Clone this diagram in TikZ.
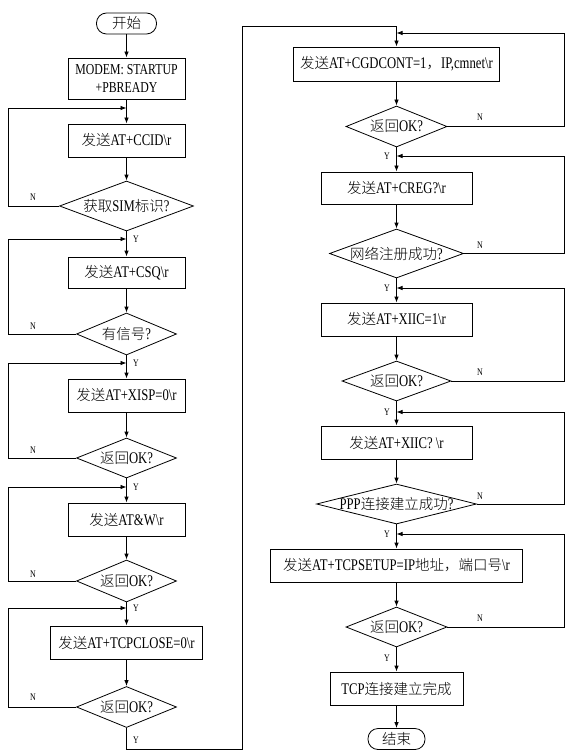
\documentclass[tikz,border=0pt]{standalone}
\usepackage{fontspec}
\setmainfont{Liberation Serif}[Scale=1.12, FakeStretch=0.78]
\newfontfamily\cjkfont{Noto Sans CJK SC Light}
\usetikzlibrary{shapes.geometric,arrows.meta}
\newcommand\zh[1]{{\cjkfont #1}}
\newcommand\bsr{\textbackslash r}

\begin{document}
\begin{tikzpicture}[x=1pt,y=-1pt,
  every path/.style={line width=0.8pt},
  arr/.style={-{Latex[length=6pt,width=4.5pt]}},
  txt/.style={font=\fontsize{14.5}{17}\selectfont},
  process/.style={draw, rectangle, inner sep=0pt, txt, minimum height=33pt},
  terminal/.style={draw, rectangle, rounded corners=10pt, inner sep=0pt, txt,
                   minimum width=58pt, minimum height=21pt},
  decision/.style={draw, diamond, inner sep=0pt, label={[txt]center:#1}},
  yn/.style={font=\fontsize{9}{10}\selectfont, inner sep=0pt}]
\useasboundingbox (0,0) rectangle (565,751);

% rails used by the feedback loops
\coordinate (lrail) at (8,0);
\coordinate (rrail) at (564,0);

% ---------------- left column ----------------
\node[terminal, minimum width=60pt] (start) at (126.5,23.5) {\zh{开始}};
\node[process, minimum width=117pt, minimum height=41pt, align=center,
      font=\fontsize{13.5}{18}\selectfont] (modem) at (126.5,78.5) {MODEM: STARTUP\\+PBREADY};
\node[process, minimum width=117pt] (ccid) at (126.5,140.5) {\zh{发送}AT+CCID\bsr};
\node[decision={\zh{获取}SIM\zh{标识}?}, minimum width=134pt, minimum height=50pt] (d1) at (126.5,206) {};
\node[process, minimum width=117pt, minimum height=31pt] (csq) at (126.5,272.5) {\zh{发送}AT+CSQ\bsr};
\node[decision={\zh{有信号}?}, minimum width=100pt, minimum height=42pt] (d2) at (126.5,334) {};
\node[process, minimum width=117pt] (xisp) at (126.5,395.5) {\zh{发送}AT+XISP=0\bsr};
\node[decision={\zh{返回}OK?}, minimum width=100pt, minimum height=40pt] (d3) at (126.5,458) {};
\node[process, minimum width=117pt] (atw) at (126.5,519.5) {\zh{发送}AT\&W\bsr};
\node[decision={\zh{返回}OK?}, minimum width=100pt, minimum height=42pt] (d4) at (126.5,581) {};
\node[process, minimum width=152pt] (close) at (126.5,642.5) {\zh{发送}AT+TCPCLOSE=0\bsr};
\node[decision={\zh{返回}OK?}, minimum width=100pt, minimum height=41pt] (d5) at (126.5,707) {};

% loop entry points on the left column
\coordinate (j1) at (126.5,108);
\coordinate (j2) at (126.5,239);
\coordinate (j3) at (126.5,363);
\coordinate (j4) at (126.5,487);
\coordinate (j5) at (126.5,608);

% ---------------- right column ----------------
\node[process, minimum width=206pt, minimum height=34pt] (cgd) at (396.5,64) {\zh{发送}AT+CGDCONT=1\zh{，}IP,cmnet\bsr};
\node[decision={\zh{返回}OK?}, minimum width=101pt, minimum height=41pt] (r1) at (396.5,126.5) {};
\node[process, minimum width=151pt, minimum height=32pt] (creg) at (396.5,188) {\zh{发送}AT+CREG?\bsr};
\node[decision={\zh{网络注册成功}?}, minimum width=134pt, minimum height=49pt] (r2) at (396.5,253.5) {};
\node[process, minimum width=151pt] (xiic1) at (396.5,319.5) {\zh{发送}AT+XIIC=1\bsr};
\node[decision={\zh{返回}OK?}, minimum width=109pt, minimum height=40pt] (r3) at (396.5,381) {};
\node[process, minimum width=151pt] (xiicq) at (396.5,442.5) {\zh{发送}AT+XIIC? \bsr};
\node[decision={PPP\zh{连接建立成功}?}, minimum width=160pt, minimum height=40pt] (r4) at (396.5,504) {};
\node[process, minimum width=252pt] (setup) at (396.5,565.5) {\zh{发送}AT+TCPSETUP=IP\zh{地址，端口号}\bsr};
\node[decision={\zh{返回}OK?}, minimum width=101pt, minimum height=40pt] (r5) at (396.5,627) {};
\node[process, minimum width=133pt] (done) at (396.5,688.5) {TCP\zh{连接建立完成}};
\node[terminal, minimum width=57pt] (stop) at (396.5,739) {\zh{结束}};

% loop entry points on the right column
\coordinate (k1) at (396.5,33);
\coordinate (k2) at (396.5,156);
\coordinate (k3) at (396.5,288);
\coordinate (k4) at (396.5,412);
\coordinate (k5) at (396.5,534);

% route joining the two columns
\coordinate (bl) at (126.5,749);
\coordinate (br) at (242,749);
\coordinate (tl) at (242,26);
\coordinate (tr) at (396.5,26);

% ---------------- main flow, left ----------------
\draw[arr] (start) -- (modem);
\draw[arr] (modem) -- (ccid);
\draw[arr] (ccid) -- (d1);
\draw[arr] (d1) -- (csq);
\draw[arr] (csq) -- (d2);
\draw[arr] (d2) -- (xisp);
\draw[arr] (xisp) -- (d3);
\draw[arr] (d3) -- (atw);
\draw[arr] (atw) -- (d4);
\draw[arr] (d4) -- (close);
\draw[arr] (close) -- (d5);

% retry loops, left
\draw[arr] (d1.west) -- (d1.west -| lrail) |- (j1);
\draw[arr] (d2.west) -- (d2.west -| lrail) |- (j2);
\draw[arr] (d3.west) -- (d3.west -| lrail) |- (j3);
\draw[arr] (d4.west) -- (d4.west -| lrail) |- (j4);
\draw[arr] (d5.west) -- (d5.west -| lrail) |- (j5);

% to the right column
\draw[arr] (d5.south) -- (bl) -- (br) -- (tl) -- (tr) -- (cgd.north);

% ---------------- main flow, right ----------------
\draw[arr] (cgd) -- (r1);
\draw[arr] (r1) -- (creg);
\draw[arr] (creg) -- (r2);
\draw[arr] (r2) -- (xiic1);
\draw[arr] (xiic1) -- (r3);
\draw[arr] (r3) -- (xiicq);
\draw[arr] (xiicq) -- (r4);
\draw[arr] (r4) -- (setup);
\draw[arr] (setup) -- (r5);
\draw[arr] (r5) -- (done);
\draw[arr] (done) -- (stop);

% retry loops, right
\draw[arr] (r1.east) -- (r1.east -| rrail) |- (k1);
\draw[arr] (r2.east) -- (r2.east -| rrail) |- (k2);
\draw[arr] (r3.east) -- (r3.east -| rrail) |- (k3);
\draw[arr] (r4.east) -- (r4.east -| rrail) |- (k4);
\draw[arr] (r5.east) -- (r5.east -| rrail) |- (k5);

% branch labels
\node[yn] (n1) at (33,197) {N};
\node[yn] (n2) at (33,326) {N};
\node[yn] (n3) at (33,450) {N};
\node[yn] (n4) at (33,574) {N};
\node[yn] (n5) at (33,697) {N};
\node[yn] (y1) at (136,239) {Y};
\node[yn] (y2) at (136,363) {Y};
\node[yn] (y3) at (136,487) {Y};
\node[yn] (y4) at (136,608) {Y};
\node[yn] (y5) at (136,740) {Y};

\node[yn] (m1) at (480,117) {N};
\node[yn] (m2) at (480,245) {N};
\node[yn] (m3) at (480,372) {N};
\node[yn] (m4) at (480,496) {N};
\node[yn] (m5) at (480,618) {N};
\node[yn] (z1) at (387,156) {Y};
\node[yn] (z2) at (387,288) {Y};
\node[yn] (z3) at (387,412) {Y};
\node[yn] (z4) at (387,534) {Y};
\node[yn] (z5) at (387,658) {Y};
\end{tikzpicture}
\end{document}
